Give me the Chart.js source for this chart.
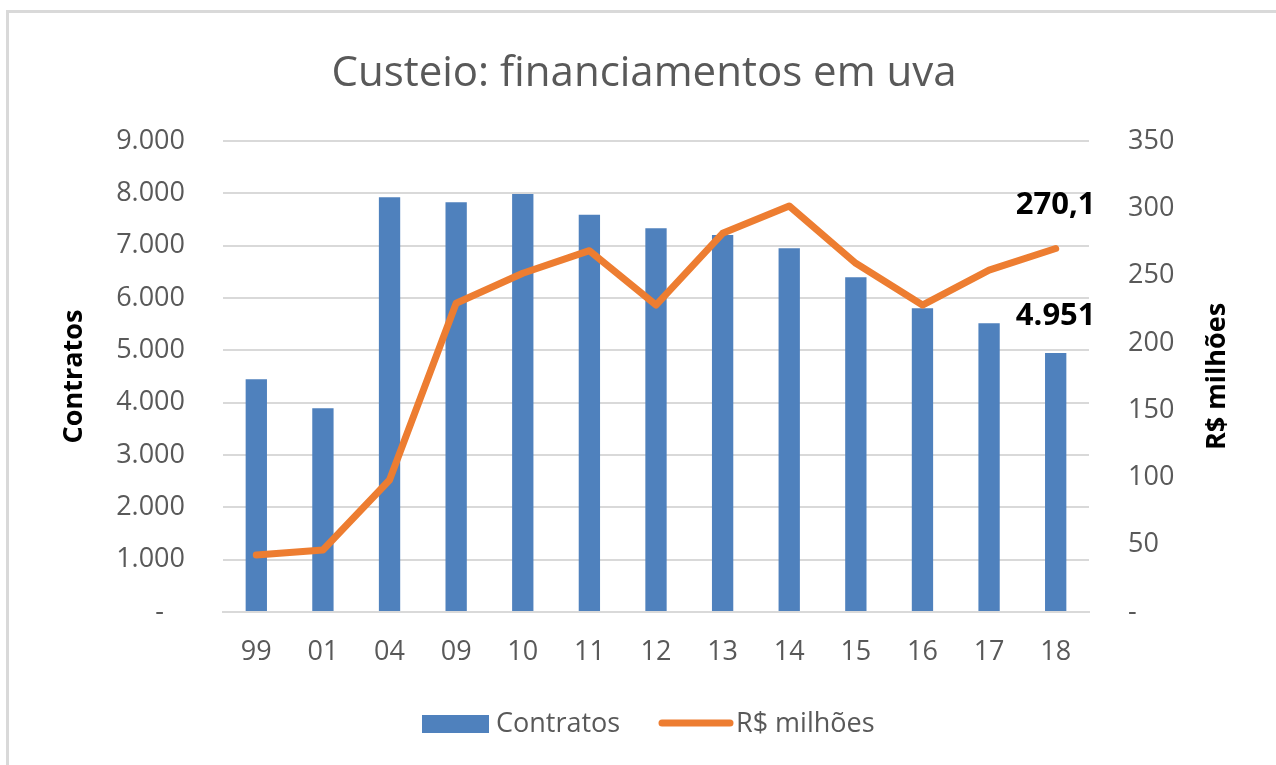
<!DOCTYPE html>
<html>
<head>
<meta charset="utf-8">
<script src="https://cdn.jsdelivr.net/npm/chart.js@4.4.0/dist/chart.umd.min.js"></script>
<style>
  html, body { margin: 0; padding: 0; background: #fff; overflow: hidden; }
  #frame { position: absolute; left: 6px; top: 10px; width: 1300px; height: 800px; border: 3px solid #d9d9d9; box-sizing: border-box; }
  #wrap { position: absolute; left: 0; top: 0; width: 1276px; height: 765px; }
</style>
</head>
<body>
<div id="frame"></div>
<div id="wrap"><canvas id="chart"></canvas></div>
<script>
const categories = ['99', '01', '04', '09', '10', '11', '12', '13', '14', '15', '16', '17', '18'];
const contratos = [4446, 3892, 7924, 7829, 7987, 7592, 7332, 7204, 6950, 6396, 5803, 5517, 4951];
const milhoes = [42.4, 46.1, 98.1, 229.4, 251.7, 268.5, 228.1, 281.4, 301.7, 259.1, 228.1, 254.1, 270.1];
const leftTicks = [0, 1000, 2000, 3000, 4000, 5000, 6000, 7000, 8000, 9000];
const rightTicks = [0, 50, 100, 150, 200, 250, 300, 350];

const titleText = 'Custeio: financiamentos em uva';
const FONT = '"Open Sans", "Noto Sans", sans-serif';
const BLUE = '#4f81bd';
const ORANGE = '#ed7d31';
const GREY = '#595959';

// 9000 -> "9.000", 270.1 -> "270,1"
function fmtInt(v) {
  return String(Math.round(v)).replace(/\B(?=(\d{3})+(?!\d))/g, '.');
}
function fmtDec(v) {
  return v.toFixed(1).replace('.', ',');
}

const overlay = {
  id: 'overlay',
  afterDraw(chart) {
    const ctx = chart.ctx;
    const area = chart.chartArea;
    ctx.save();

    // title
    ctx.fillStyle = GREY;
    ctx.font = '42px ' + FONT;
    ctx.textAlign = 'center';
    ctx.textBaseline = 'alphabetic';
    ctx.fillText(titleText, 644, 86);

    // axis titles, both read bottom to top
    ctx.fillStyle = '#000';
    ctx.font = 'bold 27px ' + FONT;
    ctx.textBaseline = 'middle';
    const midY = (area.top + area.bottom) / 2;
    [[74, 'Contratos'], [1217, 'R$ milhões']].forEach(([x, txt]) => {
      ctx.save();
      ctx.translate(x, midY);
      ctx.rotate(-Math.PI / 2);
      ctx.fillText(txt, 0, 0);
      ctx.restore();
    });

    // labels on last point / bar
    const n = categories.length - 1;
    const pt = chart.getDatasetMeta(0).data[n];
    const bar = chart.getDatasetMeta(1).data[n];
    ctx.font = 'bold 31px ' + FONT;
    ctx.fillText(fmtDec(milhoes[n]), pt.x, pt.y - 43);
    ctx.fillText(fmtInt(contratos[n]), bar.x, bar.y - 37);

    // legend
    ctx.font = '27px ' + FONT;
    ctx.textAlign = 'left';
    ctx.fillStyle = BLUE;
    ctx.fillRect(422, 715, 67, 18);
    ctx.fillStyle = GREY;
    ctx.fillText('Contratos', 496, 724);
    ctx.strokeStyle = ORANGE;
    ctx.lineWidth = 7;
    ctx.lineCap = 'round';
    ctx.beginPath();
    ctx.moveTo(662, 723);
    ctx.lineTo(730, 723);
    ctx.stroke();
    ctx.fillStyle = GREY;
    ctx.fillText('R$ milhões', 736, 724);

    ctx.restore();
  }
};

new Chart(document.getElementById('chart'), {
  type: 'bar',
  data: {
    labels: categories,
    datasets: [
      {
        type: 'line',
        label: 'R$ milhões',
        data: milhoes,
        yAxisID: 'y1',
        borderColor: ORANGE,
        backgroundColor: ORANGE,
        borderWidth: 7,
        borderJoinStyle: 'round',
        borderCapStyle: 'round',
        pointRadius: 0,
        tension: 0,
        order: 0
      },
      {
        type: 'bar',
        label: 'Contratos',
        data: contratos,
        yAxisID: 'y',
        backgroundColor: BLUE,
        barPercentage: 0.32,
        categoryPercentage: 1,
        order: 1
      }
    ]
  },
  options: {
    responsive: true,
    maintainAspectRatio: false,
    animation: false,
    layout: { padding: { top: 141, bottom: 93, left: 0, right: 0 } },
    plugins: {
      legend: { display: false },
      title: { display: false },
      tooltip: { enabled: false }
    },
    scales: {
      x: {
        grid: { display: false, drawTicks: false },
        border: { display: true, color: '#d9d9d9', width: 2 },
        ticks: { color: GREY, font: { family: FONT, size: 27 }, padding: 24, maxRotation: 0 },
        afterFit(scale) { scale.height = 60; }
      },
      y: {
        position: 'left',
        min: 0,
        max: leftTicks[leftTicks.length - 1],
        afterBuildTicks(scale) { scale.ticks = leftTicks.map(v => ({ value: v })); },
        grid: { color: '#d9d9d9', lineWidth: 2, drawTicks: false },
        border: { display: false },
        ticks: {
          color: GREY,
          font: { family: FONT, size: 27 },
          padding: 38,
          callback: v => v === 0 ? '-   ' : fmtInt(v)
        },
        afterFit(scale) { scale.width = 223; }
      },
      y1: {
        position: 'right',
        min: 0,
        max: rightTicks[rightTicks.length - 1],
        afterBuildTicks(scale) { scale.ticks = rightTicks.map(v => ({ value: v })); },
        grid: { display: false, drawTicks: false },
        border: { display: false },
        ticks: {
          color: GREY,
          font: { family: FONT, size: 27 },
          padding: 39,
          callback: v => v === 0 ? '-' : String(v)
        },
        afterFit(scale) { scale.width = 187; }
      }
    }
  },
  plugins: [overlay]
});
</script>
</body>
</html>
